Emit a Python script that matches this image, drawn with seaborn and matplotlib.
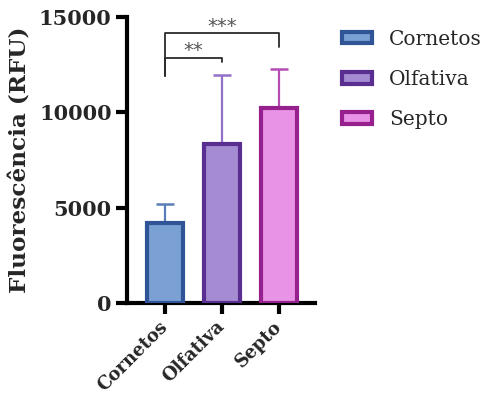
import matplotlib
matplotlib.use("Agg")
import matplotlib.pyplot as plt
import seaborn as sns
import numpy as np
from matplotlib.patches import Patch

# Mean fluorescence per tissue and upper SD
categories = ["Cornetos", "Olfativa", "Septo"]
means = [4200, 8350, 10250]
sds = [1000, 3600, 2050]
fill_colors = ["#7ba0d4", "#a58bd2", "#e993e6"]
edge_colors = ["#2f5597", "#5a2d91", "#96208e"]
err_colors = ["#5a7db8", "#9270c8", "#b64db4"]
yticks = [0, 5000, 10000, 15000]

# Significance brackets: (left index, right index, bracket height, right leg end, left leg end, label)
brackets = [
    (0, 1, 12850, 12630, 11900, "**"),
    (0, 2, 14150, 13450, 11900, "***"),
]

sns.set_theme(style="ticks")
plt.rcParams["font.family"] = ["DejaVu Serif"]

fig = plt.figure(figsize=(4.88, 3.98), dpi=100)
ax = fig.add_axes([0.260, 0.239, 0.386, 0.718])

sns.barplot(x=categories, y=means, hue=categories, palette=fill_colors,
            width=0.63, legend=False, ax=ax, saturation=1)

for bar, ec in zip(ax.patches, edge_colors):
    bar.set_edgecolor(ec)
    bar.set_linewidth(3.0)
    bar.set_zorder(3)

x = np.arange(len(categories))
for xi, m, s, c in zip(x, means, sds, err_colors):
    ax.errorbar(xi, m, yerr=[[0], [s]], fmt="none", ecolor=c,
                elinewidth=1.6, capsize=6.8, capthick=1.8, zorder=2)

for i, j, h, rj, li, lab in brackets:
    ax.plot([x[i], x[i], x[j], x[j]], [li, h, h, rj], color="#2b2b2b",
            lw=1.3, clip_on=False, zorder=4)
    ax.text((x[i] + x[j]) / 2, h - 120, lab, ha="center", va="bottom",
            fontsize=14, color="#555555", family="DejaVu Sans")

ax.set_xlim(-0.667, 2.63)
ax.set_ylim(0, 15000)
ax.set_yticks(yticks)
ax.set_yticklabels([str(v) for v in yticks], fontsize=15, fontweight="bold")
ax.set_xticks(x)
ax.set_xticklabels(categories, fontsize=13, fontweight="bold",
                   rotation=45, ha="right", va="center", rotation_mode="anchor")
ax.set_xlabel("")
ax.set_ylabel("Fluorescência (RFU)", fontsize=16.7, fontweight="bold", labelpad=5)

sns.despine(ax=ax)
for sp in ["left", "bottom"]:
    ax.spines[sp].set_linewidth(3.0)
    ax.spines[sp].set_color("black")
ax.tick_params(axis="both", length=8, width=3.0, color="black", pad=3)
ax.tick_params(axis="x", pad=7)

handles = [Patch(facecolor=f, edgecolor=e, linewidth=3.0)
           for f, e in zip(fill_colors, edge_colors)]
fig.legend(handles, categories, loc="upper left", bbox_to_anchor=(0.70, 0.925),
           frameon=False, fontsize=14.5, handlelength=1.5, handleheight=0.5,
           handletextpad=0.85, labelspacing=1.05, borderpad=0, borderaxespad=0)

fig.savefig("out.png", dpi=100)
